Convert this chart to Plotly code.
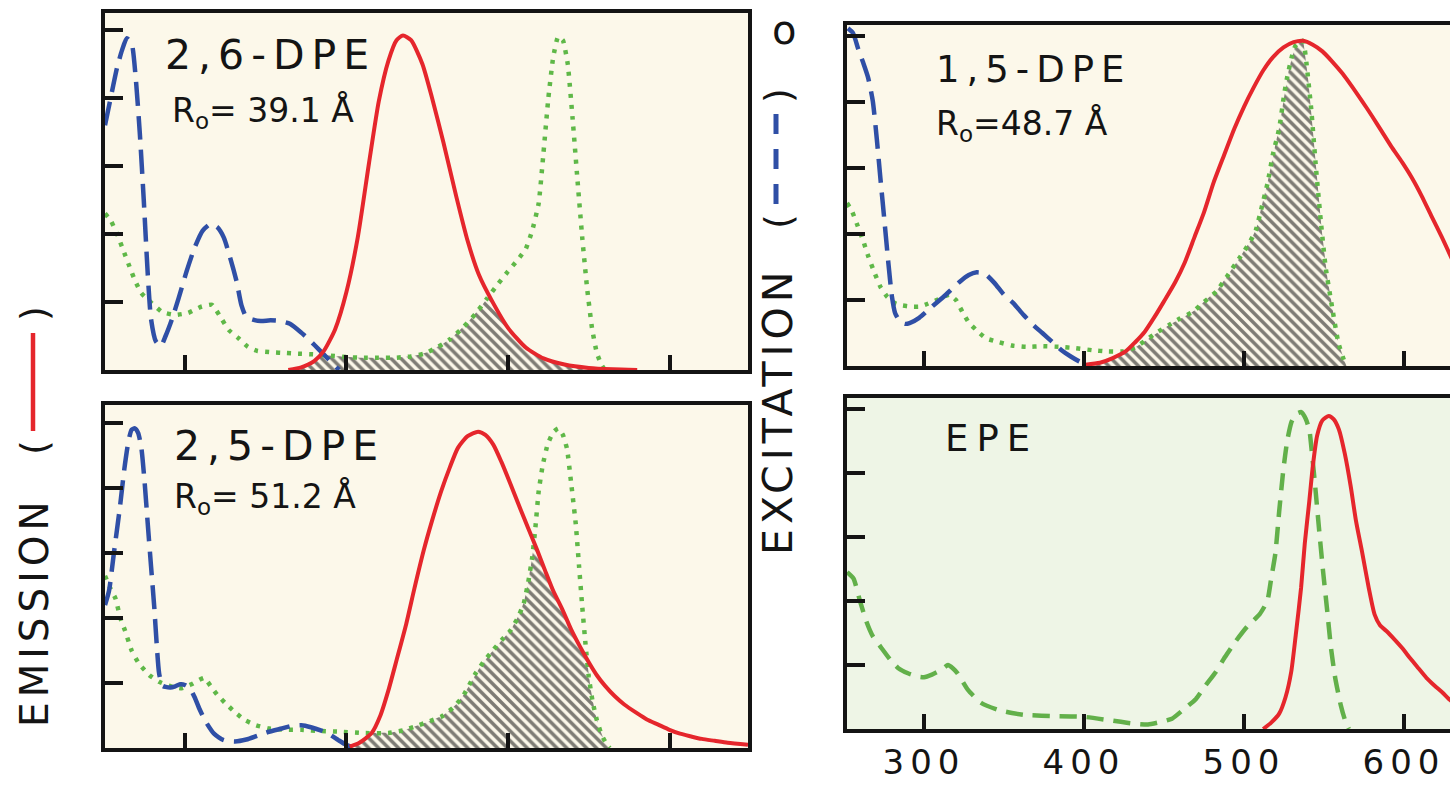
import numpy as np
import plotly.graph_objects as go

# ---------------- data (wavelength nm, relative intensity in tick units) ----------------
# 2,6-DPE panel
dpe26_em_x = [364, 372, 380, 386, 393, 400, 407, 414, 420, 426, 431, 435, 440, 447, 453, 460, 468, 475, 482, 490, 500, 511, 522, 535, 550, 565, 580]
dpe26_em_y = [0, 0.04, 0.13, 0.28, 0.6, 1.15, 1.95, 3.05, 3.95, 4.55, 4.85, 4.92, 4.85, 4.5, 4.0, 3.35, 2.55, 1.9, 1.4, 1.02, 0.62, 0.33, 0.17, 0.08, 0.03, 0.01, 0]
dpe26_ex_x = [250.5, 254, 258, 261, 264, 267, 269.5, 272, 274.5, 277, 279, 282, 285, 288, 292, 296, 301, 306, 311, 316, 320, 324, 328, 332, 335, 338, 342, 347, 353, 359, 365, 372, 378, 383, 388, 392, 395.5]
dpe26_ex_y = [3.6, 4.0, 4.45, 4.7, 4.88, 4.8, 4.3, 3.5, 2.5, 1.4, 0.75, 0.42, 0.35, 0.5, 0.75, 1.05, 1.45, 1.8, 2.05, 2.15, 2.1, 1.95, 1.65, 1.3, 0.95, 0.78, 0.74, 0.72, 0.73, 0.72, 0.68, 0.55, 0.42, 0.3, 0.18, 0.08, 0]
dpe26_ab_x = [250.5, 254, 258, 262, 266, 269, 273, 279.6, 286, 294, 302, 310, 316.7, 323, 327, 333, 339, 345, 354, 362, 370, 380, 390, 400, 410, 420, 430, 440, 448, 456, 464, 472, 480, 487, 494, 500, 506, 511, 515, 519, 522, 525, 528, 531, 534, 537, 540, 543, 546, 549, 552, 555, 558, 560]
dpe26_ab_y = [2.3, 2.2, 2.0, 1.75, 1.5, 1.32, 1.13, 0.98, 0.85, 0.81, 0.84, 0.93, 0.96, 0.74, 0.59, 0.47, 0.34, 0.28, 0.26, 0.25, 0.24, 0.23, 0.21, 0.19, 0.18, 0.18, 0.18, 0.2, 0.24, 0.33, 0.45, 0.62, 0.83, 1.05, 1.27, 1.45, 1.62, 1.78, 2.05, 2.45, 3.2, 4.0, 4.6, 4.9, 4.85, 4.5, 3.7, 2.8, 1.94, 1.2, 0.62, 0.25, 0.07, 0]

# 1,5-DPE panel
dpe15_em_x = [401, 410, 418, 426, 432, 438, 444, 450, 457, 463, 469, 475, 481, 487.6, 494, 500, 506, 512, 518, 524.7, 531, 537, 543, 549, 555, 561.7, 568, 574, 580, 586, 592, 598.8, 605, 611, 617, 623.5, 630]
dpe15_em_y = [0.02, 0.05, 0.12, 0.22, 0.36, 0.52, 0.74, 0.98, 1.27, 1.57, 1.95, 2.33, 2.78, 3.2, 3.6, 3.93, 4.22, 4.48, 4.68, 4.83, 4.91, 4.93, 4.87, 4.77, 4.62, 4.43, 4.22, 4.01, 3.79, 3.56, 3.33, 3.09, 2.85, 2.58, 2.28, 1.96, 1.62]
dpe15_ex_x = [252.5, 255.6, 259, 262, 265, 268, 270.5, 272.8, 275.3, 277.8, 280, 282, 285, 288, 291, 297, 305, 313.7, 322, 328, 333, 338, 344, 350, 356, 362, 368, 374, 380, 386, 392, 397, 402]
dpe15_ex_y = [5.12, 5.05, 4.8, 4.6, 4.38, 4.02, 3.45, 2.84, 2.2, 1.55, 1.05, 0.8, 0.68, 0.64, 0.65, 0.73, 0.9, 1.08, 1.27, 1.38, 1.42, 1.4, 1.26, 1.08, 0.95, 0.78, 0.63, 0.5, 0.37, 0.24, 0.14, 0.07, 0.02]
dpe15_ab_x = [251.9, 255, 258, 262, 265.4, 269, 272.8, 277, 282, 286, 292, 297, 302, 308, 313, 316, 320, 324, 328, 332.5, 338.7, 347, 355, 363.7, 374, 385, 395, 405, 415, 424, 432, 438, 445, 453, 460, 468, 475, 482.7, 490, 497.5, 503, 507.4, 511, 514.8, 518, 522, 525, 527, 530, 532, 535, 537, 539, 542, 545, 548, 551, 555, 559, 563, 564]
dpe15_ab_y = [2.47, 2.35, 2.16, 1.9, 1.65, 1.42, 1.2, 1.05, 0.95, 0.92, 0.9, 0.9, 0.94, 1.0, 1.06, 1.08, 1.0, 0.82, 0.66, 0.55, 0.42, 0.36, 0.31, 0.29, 0.3, 0.29, 0.27, 0.24, 0.22, 0.22, 0.28, 0.38, 0.5, 0.62, 0.72, 0.82, 0.97, 1.13, 1.38, 1.65, 1.85, 2.06, 2.4, 2.78, 3.2, 3.6, 4.1, 4.38, 4.7, 4.85, 4.92, 4.93, 4.6, 3.9, 3.0, 2.2, 1.5, 0.9, 0.35, 0.05, 0]

# 2,5-DPE panel
dpe25_em_x = [402, 408, 415.6, 421, 426, 431, 437, 442, 447.8, 453, 458.6, 464, 469, 475, 481.5, 486, 490.9, 496, 501.6, 507, 512.4, 518, 523, 528, 533.9, 539, 544.6, 550, 555, 560, 566, 572, 579.6, 586, 593, 600, 606.5, 613, 620, 628, 636, 648.6]
dpe25_em_y = [0.02, 0.08, 0.23, 0.5, 0.89, 1.35, 1.91, 2.45, 3.04, 3.5, 3.95, 4.32, 4.62, 4.8, 4.87, 4.82, 4.67, 4.4, 4.06, 3.72, 3.39, 3.05, 2.73, 2.42, 2.12, 1.83, 1.56, 1.32, 1.12, 0.96, 0.8, 0.67, 0.54, 0.44, 0.36, 0.28, 0.22, 0.18, 0.14, 0.11, 0.08, 0.05]
dpe25_ex_x = [250.5, 253, 256, 259.7, 262.5, 265, 267, 269, 271, 273, 275, 277, 279, 281, 282.5, 284, 286, 288, 291, 294, 297, 300, 303, 306, 309, 313, 318, 324, 331, 338, 345, 352, 360, 366, 372, 378, 384, 390, 395, 399, 403, 407]
dpe25_ex_y = [2.2, 2.42, 3.0, 3.7, 4.3, 4.72, 4.9, 4.92, 4.85, 4.62, 4.1, 3.44, 2.8, 2.17, 1.6, 1.15, 0.96, 0.94, 0.93, 0.95, 0.98, 0.97, 0.92, 0.78, 0.6, 0.4, 0.22, 0.12, 0.1, 0.13, 0.19, 0.25, 0.3, 0.34, 0.35, 0.32, 0.27, 0.2, 0.12, 0.06, 0.02, 0]
dpe25_ab_x = [250.5, 254, 257, 260, 263, 267, 271.5, 278, 284, 291, 298, 304, 309, 312, 316, 320, 325, 331, 337, 344, 352, 362, 372, 385, 397, 410, 426, 435, 442.5, 450, 458.6, 466, 472, 476, 480, 485, 490.9, 496, 501.6, 506, 509.7, 512.5, 515, 517, 519, 521.5, 524.5, 528, 531, 534, 536.6, 539, 542, 544, 546, 548, 550, 552.5, 555, 558, 561, 563]
dpe25_ab_y = [2.65, 2.45, 2.3, 2.0, 1.8, 1.5, 1.3, 1.12, 1.02, 0.95, 0.92, 0.98, 1.05, 1.08, 0.95, 0.82, 0.69, 0.55, 0.43, 0.35, 0.3, 0.28, 0.28, 0.26, 0.25, 0.23, 0.23, 0.27, 0.33, 0.4, 0.48, 0.62, 0.79, 0.97, 1.15, 1.33, 1.51, 1.66, 1.81, 2.0, 2.22, 2.55, 2.93, 3.4, 3.95, 4.35, 4.67, 4.86, 4.92, 4.82, 4.6, 4.1, 3.44, 2.8, 2.17, 1.6, 1.1, 0.7, 0.43, 0.2, 0.06, 0]

# EPE panel
epe_em_x = [512, 517, 522, 526, 529.5, 532.5, 535.7, 538, 540.7, 543, 545.7, 549, 553, 556, 559.3, 563, 566.7, 570, 574, 578, 581.6, 585, 589, 594, 599, 604, 609, 614, 619, 624, 628, 630]
epe_em_y = [0, 0.1, 0.24, 0.5, 0.89, 1.5, 2.21, 2.9, 3.53, 4.1, 4.58, 4.82, 4.89, 4.84, 4.68, 4.3, 3.79, 3.25, 2.74, 2.2, 1.79, 1.62, 1.53, 1.4, 1.26, 1.1, 0.95, 0.8, 0.68, 0.57, 0.47, 0.43]
epe_ex_x = [252, 256, 260, 264, 268, 273, 279, 284, 290, 296, 300, 305, 310.6, 315, 318, 321, 327.5, 335.6, 346, 355, 362.5, 384, 400, 415, 429, 440, 448, 455, 462, 470, 476, 482.4, 488, 494.8, 502, 509.7, 514.6, 517, 519.6, 522, 524.6, 527, 529.6, 532.5, 535.8, 538.5, 540.8, 542.5, 544.5, 547, 549.4, 552, 554.4, 557, 560.5, 563, 565.5]
epe_ex_y = [2.45, 2.35, 2.0, 1.68, 1.45, 1.28, 1.08, 0.95, 0.87, 0.82, 0.81, 0.85, 0.92, 1.0, 0.95, 0.87, 0.61, 0.41, 0.3, 0.25, 0.22, 0.2, 0.19, 0.14, 0.09, 0.07, 0.11, 0.16, 0.3, 0.47, 0.68, 0.89, 1.12, 1.37, 1.6, 1.79, 2.0, 2.35, 2.74, 3.4, 4.05, 4.5, 4.79, 4.92, 4.95, 4.85, 4.68, 4.3, 3.79, 3.1, 2.47, 1.85, 1.26, 0.8, 0.37, 0.15, 0]

x_ticks = [300, 400, 500, 600]
x_tick_labels = ["300", "400", "500", "600"]
y_ticks = [1, 2, 3, 4, 5]

# ---------------- styling ----------------
W, H = 1450, 785
RED = "#e5262c"
BLUE = "#2f4fa6"
GREEN_DOT = "#5fb848"
GREEN_DASH = "#62b04a"
CREAM = "#fcf8ea"
MINT = "#eef5e6"
FONT = "DejaVu Sans"
INK = "#141414"


def fx(p):
    return p / W


def fy(p):
    return 1 - p / H


fig = go.Figure()

panels = [
    dict(ax="", xdom=(105, 748), ydom=(13, 370), xr=(250.5, 648.6), yr=(0, 5.25), full=True, bg=CREAM),
    dict(ax="2", xdom=(847, 1450), ydom=(25, 366), xr=(251.9, 628.75), yr=(0, 5.17), full=False, bg=CREAM),
    dict(ax="3", xdom=(105, 748), ydom=(405, 748), xr=(250.5, 648.6), yr=(0, 5.28), full=True, bg=CREAM),
    dict(ax="4", xdom=(847, 1450), ydom=(398, 729), xr=(251.9, 628.75), yr=(0, 5.17), full=False, bg=MINT),
]

layout_axes = {}
shapes = []
for i, p in enumerate(panels):
    a = p["ax"]
    xa = dict(
        domain=[fx(p["xdom"][0]), fx(p["xdom"][1])],
        range=list(p["xr"]),
        anchor="y" + a,
        showgrid=False, zeroline=False,
        showline=True, linecolor=INK, linewidth=3.5, mirror=True,
        ticks="inside", tickvals=x_ticks, ticklen=15, tickwidth=3.5, tickcolor=INK,
        showticklabels=(i == 3),
    )
    if i == 3:
        xa.update(
            ticktext=['<span style="letter-spacing:6px">%s</span>' % t for t in x_tick_labels],
            tickfont=dict(family=FONT, size=34, color=INK),
            ticklabelstandoff=0,
        )
    ya = dict(
        domain=[fy(p["ydom"][1]), fy(p["ydom"][0])],
        range=list(p["yr"]),
        anchor="x" + a,
        showgrid=False, zeroline=False,
        showline=True, linecolor=INK, linewidth=3.5, mirror=p["full"],
        ticks="inside", tickvals=y_ticks, ticklen=18, tickwidth=3.5, tickcolor=INK,
        showticklabels=False,
    )
    layout_axes["xaxis" + a] = xa
    layout_axes["yaxis" + a] = ya
    shapes.append(dict(type="rect", xref="x%s domain" % a, yref="y%s domain" % a,
                       x0=0, x1=1, y0=0, y1=1, fillcolor=p["bg"], line=dict(width=0), layer="below"))


def hatch_trace(ex_x, ex_y, ab_x, ab_y, a):
    lo = max(min(ex_x), min(ab_x))
    hi = min(max(ex_x), max(ab_x))
    g = np.linspace(lo, hi, 400)
    e = np.interp(g, ex_x, ex_y)
    b = np.interp(g, ab_x, ab_y)
    h = np.minimum(e, b)
    return go.Scatter(x=g, y=h, mode="lines", line=dict(width=0), fill="tozeroy",
                      fillcolor="rgba(0,0,0,0)",
                      fillpattern=dict(shape="\\", fgcolor="#000000", bgcolor="rgba(0,0,0,0)", size=7, solidity=0.5),
                      xaxis="x" + a, yaxis="y" + a, hoverinfo="skip", showlegend=False)


def line(x, y, a, color, width, dash, smooth=0.6):
    return go.Scatter(x=x, y=y, mode="lines", xaxis="x" + a, yaxis="y" + a, showlegend=False,
                      line=dict(color=color, width=width, dash=dash, shape="spline", smoothing=smooth))


DOT = "4px,7px"
DASH = "24px,10px"
EDASH = "17px,10px"

sets = [
    ("", dpe26_em_x, dpe26_em_y, dpe26_ex_x, dpe26_ex_y, dpe26_ab_x, dpe26_ab_y),
    ("2", dpe15_em_x, dpe15_em_y, dpe15_ex_x, dpe15_ex_y, dpe15_ab_x, dpe15_ab_y),
    ("3", dpe25_em_x, dpe25_em_y, dpe25_ex_x, dpe25_ex_y, dpe25_ab_x, dpe25_ab_y),
]
for a, emx, emy, exx, exy, abx, aby in sets:
    fig.add_trace(hatch_trace(emx, emy, abx, aby, a))
    fig.add_trace(line(abx, aby, a, GREEN_DOT, 4.5, DOT, 0.4))
    fig.add_trace(line(exx, exy, a, BLUE, 4.5, DASH, 0.6))
    fig.add_trace(line(emx, emy, a, RED, 4, "solid", 0.6))

fig.add_trace(line(epe_ex_x, epe_ex_y, "4", GREEN_DASH, 4.5, EDASH, 0.5))
fig.add_trace(line(epe_em_x, epe_em_y, "4", RED, 4, "solid", 0.6))

# ---------------- text ----------------
ann = []


def txt(s, x, y, size, xanchor="left", angle=0, color=INK, yanchor="middle"):
    ann.append(dict(text=s, x=fx(x), y=fy(y), xref="paper", yref="paper", showarrow=False,
                    xanchor=xanchor, yanchor=yanchor, textangle=angle,
                    font=dict(family=FONT, size=size, color=color)))


def sp(s, n):
    return '<span style="letter-spacing:%dpx">%s</span>' % (n, s)


txt(sp("2,6-DPE", 7), 163, 55, 41)
txt("R<sub>o</sub>= 39.1 Å", 170, 112, 33)
txt(sp("1,5-DPE", 7), 934, 70, 37)
txt("R<sub>o</sub>=48.7 Å", 934, 125, 33)
txt(sp("2,5-DPE", 7), 172, 446, 41)
txt("R<sub>o</sub>= 51.2 Å", 172, 498, 33)
txt(sp("EPE", 8), 943, 438, 37)

# vertical axis captions
txt(sp("EMISSION", 5), 34, 612, 39, xanchor="center", angle=-90)
txt("(", 34, 448, 38, xanchor="center", angle=-90)
txt(")", 34, 314, 38, xanchor="center", angle=-90)
txt(sp("EXCITATION", 5), 778, 411, 41, xanchor="center", angle=-90)
txt("(", 778, 222, 38, xanchor="center", angle=-90)
txt(")", 778, 96, 38, xanchor="center", angle=-90)
txt("o", 784, 30, 40, xanchor="center")

shapes.append(dict(type="line", xref="paper", yref="paper", x0=fx(33), x1=fx(33), y0=fy(431), y1=fy(333),
                   line=dict(color=RED, width=4.5)))
shapes.append(dict(type="line", xref="paper", yref="paper", x0=fx(776), x1=fx(776), y0=fy(204), y1=fy(112),
                   line=dict(color=BLUE, width=5, dash="20px,15px")))

fig.update_layout(
    width=W, height=H,
    margin=dict(l=0, r=0, t=0, b=0),
    paper_bgcolor="white", plot_bgcolor="rgba(0,0,0,0)",
    showlegend=False,
    annotations=ann,
    shapes=shapes,
    **layout_axes,
)

fig.write_html("out.html", config={"displayModeBar": False},
               post_script="document.body.style.margin='0';document.body.style.overflow='hidden';")
